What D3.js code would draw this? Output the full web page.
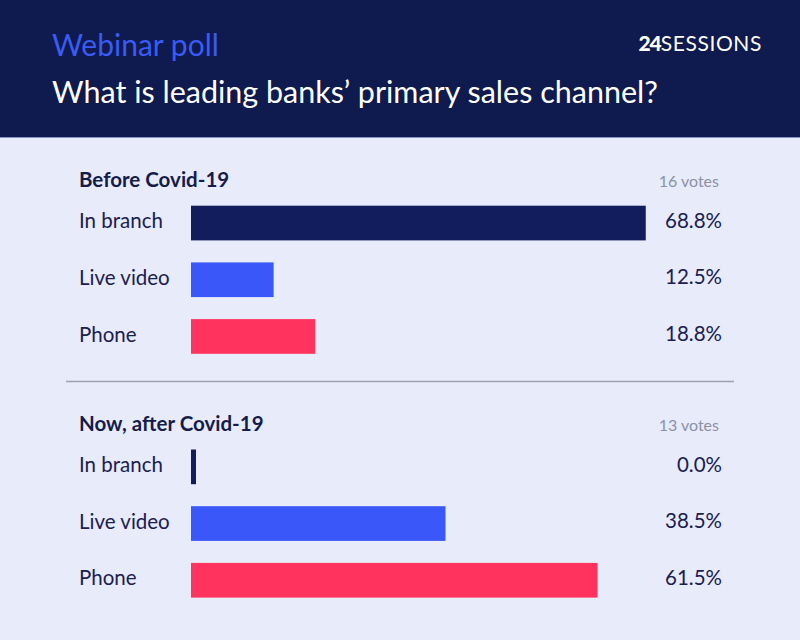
<!DOCTYPE html>
<html>
<head>
<meta charset="utf-8">
<script src="https://cdn.jsdelivr.net/npm/d3@7"></script>
<style>
  body { margin: 0; background: #e8ebfa; }
  svg { display: block; font-family: Lato, "Open Sans", sans-serif; }
</style>
</head>
<body>
<div id="wrapper"></div>
<script>
// data
const sections = ["Before Covid-19", "Now, after Covid-19"];
const votes = [16, 13];
const channels = ["In branch", "Live video", "Phone"];
const beforeValues = [68.8, 12.5, 18.8];
const afterValues = [0.0, 38.5, 61.5];
const sectionValues = [beforeValues, afterValues];
const colors = ["#111d5c", "#3a57fa", "#ff335e"];

function drawChart() {
  const dimensions = {
    width: 800,
    height: 640,
    headerHeight: 137,
    barLeft: 191,
    labelLeft: 79,
    valueRight: 722,
  };

  const wrapper = d3.select('#wrapper')
    .append('svg')
    .attr('width', dimensions.width)
    .attr('height', dimensions.height);

  // background + header
  wrapper.append('rect')
    .attr('width', dimensions.width)
    .attr('height', dimensions.height)
    .attr('fill', '#e8ebfa');
  wrapper.append('rect')
    .attr('width', dimensions.width)
    .attr('height', dimensions.headerHeight)
    .attr('fill', '#0f1a4e');
  wrapper.append('line')
    .attr('x1', 0).attr('x2', dimensions.width)
    .attr('y1', dimensions.headerHeight + 0.5).attr('y2', dimensions.headerHeight + 0.5)
    .attr('stroke', '#8a94c4')
    .attr('stroke-width', 1);

  wrapper.append('text')
    .attr('x', 52)
    .attr('y', 56)
    .attr('fill', '#3b5bf5')
    .style('font-size', '30px')
    .text('Webinar poll');

  wrapper.append('text')
    .attr('x', 52)
    .attr('y', 103)
    .attr('fill', '#ffffff')
    .style('font-size', '30.5px')
    .text('What is leading banks’ primary sales channel?');

  const logo = wrapper.append('text')
    .attr('x', 762)
    .attr('y', 51)
    .attr('fill', '#ffffff')
    .attr('text-anchor', 'end')
    .style('font-size', '21px');
  logo.append('tspan').style('font-weight', 900).attr('letter-spacing', '-1px').text('24');
  logo.append('tspan').attr('letter-spacing', '0.6px').text('SESSIONS');

  // scales
  const xScale = d3.scaleLinear()
    .domain([0, 100])
    .range([0, 661]);

  const sectionScale = d3.scalePoint()
    .domain(sections)
    .range([205.7, 449.5]);

  const yScale = d3.scaleBand()
    .domain(channels)
    .range([0, 148.1])
    .paddingInner(0.388)
    .paddingOuter(0);

  const colorScale = d3.scaleOrdinal()
    .domain(channels)
    .range(colors);

  const fmt = d3.format('.1f');

  const groups = wrapper.selectAll('.section')
    .data(sections)
    .enter()
    .append('g')
    .attr('class', 'section')
    .attr('transform', d => `translate(0,${sectionScale(d)})`);

  groups.append('text')
    .attr('x', dimensions.labelLeft)
    .attr('y', -19)
    .attr('fill', '#151c4a')
    .style('font-size', '20.5px')
    .style('font-weight', 'bold')
    .text(d => d);

  groups.append('text')
    .attr('x', 719)
    .attr('y', -18.5)
    .attr('fill', '#8c91a6')
    .attr('text-anchor', 'end')
    .style('font-size', '16px')
    .text((d, i) => `${votes[i]} votes`);

  const rows = groups.selectAll('.row')
    .data((d, i) => channels.map((c, j) => ({ channel: c, value: sectionValues[i][j] })))
    .enter()
    .append('g')
    .attr('class', 'row')
    .attr('transform', d => `translate(0,${yScale(d.channel)})`);

  rows.append('rect')
    .attr('x', dimensions.barLeft)
    .attr('width', d => Math.max(5, xScale(d.value)))
    .attr('height', yScale.bandwidth())
    .attr('fill', d => colorScale(d.channel));

  rows.append('text')
    .attr('x', dimensions.labelLeft)
    .attr('y', yScale.bandwidth() / 2)
    .attr('dy', '0.25em')
    .attr('fill', '#1a2050')
    .style('font-size', '20.5px')
    .text(d => d.channel);

  rows.append('text')
    .attr('x', dimensions.valueRight)
    .attr('y', yScale.bandwidth() / 2)
    .attr('dy', '0.23em')
    .attr('fill', '#1a2050')
    .attr('text-anchor', 'end')
    .style('font-size', '20.5px')
    .text(d => `${fmt(d.value)}%`);

  // divider
  wrapper.append('line')
    .attr('x1', 66).attr('x2', 734)
    .attr('y1', 381.5).attr('y2', 381.5)
    .attr('stroke', '#9ea1b1')
    .attr('stroke-width', 1.5);
}

drawChart();
</script>
</body>
</html>
